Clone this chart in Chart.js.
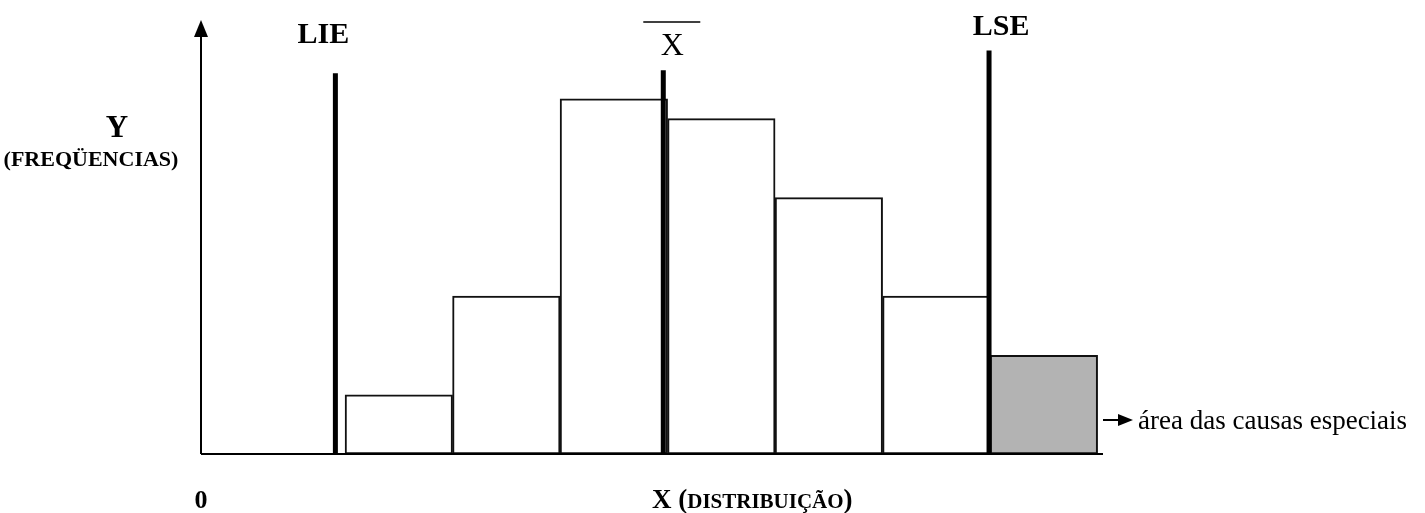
<!DOCTYPE html>
<html>
<head>
  <meta charset="utf-8">
  <script src="https://cdn.jsdelivr.net/npm/chart.js@4.4.1/dist/chart.umd.min.js"></script>
  <style>
    html, body { margin: 0; padding: 0; background: #fff; }
  </style>
</head>
<body>
  <canvas id="myChart" width="1425" height="513"></canvas>
  <script>
    // classes (bin centres) and frequencies
    var classes = [1, 2, 3, 4, 5, 6, 7];
    var freqs = [3, 8, 18, 17, 13, 8, 5];
    var special = [false, false, false, false, false, false, true];

    // limits on the X scale
    var limitNames = ['LIE', 'X', 'LSE'];
    var limitValues = [0.41, 3.46, 6.49];
    var limitTops = [19.3, 19.45, 20.45];

    var serif = '"Liberation Serif", "Times New Roman", serif';

    var data = [];
    for (var i = 0; i < classes.length; i++) {
      data.push({ x: classes[i], y: freqs[i] });
    }

    var drawExtras = {
      id: 'drawExtras',
      afterDatasetsDraw: function(chart) {
        var ctx = chart.ctx;
        var xs = chart.scales.x, ys = chart.scales.y;
        var a = chart.chartArea;
        var y0 = ys.getPixelForValue(0);
        ctx.save();
        ctx.strokeStyle = '#000';
        ctx.fillStyle = '#000';

        // axes
        ctx.lineWidth = 2;
        ctx.beginPath();
        ctx.moveTo(a.left, y0);
        ctx.lineTo(a.right, y0);
        ctx.moveTo(a.left, y0);
        ctx.lineTo(a.left, a.top + 14);
        ctx.stroke();
        ctx.beginPath();
        ctx.moveTo(a.left, a.top);
        ctx.lineTo(a.left - 7, a.top + 17);
        ctx.lineTo(a.left + 7, a.top + 17);
        ctx.closePath();
        ctx.fill();

        // limit lines
        ctx.lineWidth = 5;
        for (var i = 0; i < limitValues.length; i++) {
          var px = xs.getPixelForValue(limitValues[i]);
          ctx.beginPath();
          ctx.moveTo(px, y0);
          ctx.lineTo(px, ys.getPixelForValue(limitTops[i]));
          ctx.stroke();
        }

        // labels over the limits
        ctx.textAlign = 'center';
        ctx.textBaseline = 'alphabetic';
        var pLie = xs.getPixelForValue(limitValues[0]);
        var pX = xs.getPixelForValue(limitValues[1]);
        var pLse = xs.getPixelForValue(limitValues[2]);
        ctx.font = 'bold 30px ' + serif;
        ctx.fillText(limitNames[0], pLie - 12, 43);
        ctx.fillText(limitNames[2], pLse + 12, 35);
        ctx.font = '32px ' + serif;
        ctx.fillText(limitNames[1], pX + 9, 55);
        ctx.lineWidth = 1.5;
        ctx.beginPath();
        ctx.moveTo(pX - 20, 22);
        ctx.lineTo(pX + 37, 22);
        ctx.stroke();

        // Y title
        ctx.font = 'bold 31px ' + serif;
        ctx.fillText('Y', 117, 137);
        ctx.font = 'bold 22px ' + serif;
        ctx.fillText('(FREQÜENCIAS)', 91, 166);

        // origin and X title
        ctx.font = 'bold 26px ' + serif;
        ctx.fillText('0', a.left, 508);
        ctx.textAlign = 'left';
        ctx.font = 'bold 27px ' + serif;
        var tx = 652;
        ctx.fillText('X (', tx, 508);
        tx += ctx.measureText('X (').width;
        ctx.font = 'bold 21px ' + serif;
        ctx.fillText('DISTRIBUIÇÃO', tx, 508);
        tx += ctx.measureText('DISTRIBUIÇÃO').width;
        ctx.font = 'bold 27px ' + serif;
        ctx.fillText(')', tx, 508);

        // special causes note
        ctx.lineWidth = 2;
        ctx.beginPath();
        ctx.moveTo(1103, 420);
        ctx.lineTo(1120, 420);
        ctx.stroke();
        ctx.beginPath();
        ctx.moveTo(1133, 420);
        ctx.lineTo(1118, 414);
        ctx.lineTo(1118, 426);
        ctx.closePath();
        ctx.fill();
        ctx.font = '27px ' + serif;
        ctx.fillText('área das causas especiais', 1138, 429);

        ctx.restore();
      }
    };

    var ctx = document.getElementById('myChart').getContext('2d');
    var myChart = new Chart(ctx, {
      type: 'bar',
      data: {
        datasets: [{
          data: data,
          backgroundColor: special.map(function(s) { return s ? '#b3b3b3' : '#ffffff'; }),
          borderColor: '#111',
          borderWidth: 2,
          borderSkipped: false,
          barPercentage: 1,
          categoryPercentage: 1
        }]
      },
      options: {
        responsive: false,
        animation: false,
        devicePixelRatio: 1,
        layout: { padding: { left: 201, right: 322, top: 20, bottom: 59 } },
        plugins: { legend: { display: false }, tooltip: { enabled: false } },
        scales: {
          x: {
            type: 'linear', min: -0.84, max: 7.55, offset: false, display: false,
            ticks: { stepSize: 1, includeBounds: false }
          },
          y: { min: 0, max: 22, display: false }
        }
      },
      plugins: [drawExtras]
    });
  </script>
</body>
</html>
